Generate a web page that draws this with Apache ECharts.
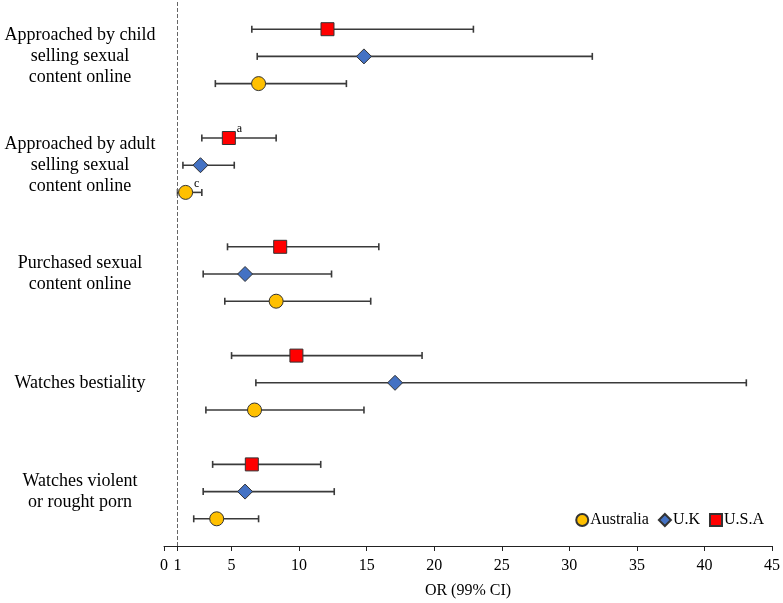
<!DOCTYPE html>
<html>
<head>
<meta charset="utf-8">
<script src="https://cdn.jsdelivr.net/npm/echarts@6/dist/echarts.min.js"></script>
<style>
html,body{margin:0;padding:0;background:#fff}
#main{width:783px;height:603px}
</style>
</head>
<body>
<div id="main"></div>
<script>
// outcome groups, top to bottom
var categories = [
    'Approached by child\nselling sexual\ncontent online',
    'Approached by adult\nselling sexual\ncontent online',
    'Purchased sexual\ncontent online',
    'Watches bestiality',
    'Watches violent\nor rought porn'
];
var xTicks = [0, 1, 5, 10, 15, 20, 25, 30, 35, 40, 45];

// odds ratios and 99% CI per country
var usaOR   = [12.1, 4.8, 8.6, 9.8, 6.5];
var usaLow  = [6.5, 2.8, 4.7, 5.0, 3.6];
var usaHigh = [22.9, 8.3, 15.9, 19.1, 11.6];
var usaNote = ['', 'a', '', '', ''];

var ukOR   = [14.8, 2.7, 6.0, 17.1, 6.0];
var ukLow  = [6.9, 1.4, 2.9, 6.8, 2.9];
var ukHigh = [31.7, 5.2, 12.4, 43.1, 12.6];
var ukNote = ['', '', '', '', ''];

var ausOR   = [7.0, 1.6, 8.3, 6.7, 3.9];
var ausLow  = [3.8, 1.0, 4.5, 3.1, 2.2];
var ausHigh = [13.5, 2.8, 15.3, 14.8, 7.0];
var ausNote = ['', 'c', '', '', ''];

var serif = '"Liberation Serif", "Times New Roman", serif';

// row slot inside a group: 0 = U.S.A, 1 = U.K, 2 = Australia
function rowOf(g, slot) { return g * 4 + slot; }

function points(or, note, slot) {
    return or.map(function (v, g) { return [v, rowOf(g, slot), note[g]]; });
}

var bars = [];
[[usaLow, usaHigh], [ukLow, ukHigh], [ausLow, ausHigh]].forEach(function (p, slot) {
    p[0].forEach(function (lo, g) {
        bars.push([lo, p[1][g], rowOf(g, slot)]);
    });
});

function renderBar(params, api) {
    var y = api.value(2);
    var a = api.coord([api.value(0), y]);
    var b = api.coord([api.value(1), y]);
    var h = 3.5;
    var st = { stroke: '#3a3a3a', lineWidth: 1.6 };
    return {
        type: 'group',
        children: [
            { type: 'line', shape: { x1: a[0], y1: a[1], x2: b[0], y2: b[1] }, style: st },
            { type: 'line', shape: { x1: a[0], y1: a[1] - h, x2: a[0], y2: a[1] + h }, style: st },
            { type: 'line', shape: { x1: b[0], y1: b[1] - h, x2: b[0], y2: b[1] + h }, style: st }
        ]
    };
}

var noteLabel = {
    show: true,
    position: 'right',
    distance: 1,
    offset: [0, -9],
    formatter: function (p) { return p.value[2]; },
    fontFamily: serif,
    fontSize: 12,
    color: '#000'
};

function markerSeries(name, data, symbol, size, color) {
    return {
        name: name,
        type: 'scatter',
        data: data,
        symbol: symbol,
        symbolSize: size,
        z: 5,
        itemStyle: { color: color, borderColor: '#333', borderWidth: 1, opacity: 1 },
        label: noteLabel
    };
}

var chart = echarts.init(document.getElementById('main'), null, { renderer: 'canvas' });

var option = {
    animation: false,
    backgroundColor: '#fff',
    grid: { left: 164, right: 11, top: 2, bottom: 57, containLabel: false, outerBoundsMode: 'none' },
    legend: {
        right: 14,
        top: 507,
        itemWidth: 12,
        itemHeight: 12,
        itemGap: 9,
        textStyle: { fontFamily: serif, fontSize: 16, color: '#000', padding: [0, 0, 0, -3] },
        data: [
            { name: 'Australia', icon: 'circle' },
            { name: 'U.K', icon: 'diamond' },
            { name: 'U.S.A', icon: 'rect' }
        ]
    },
    xAxis: {
        type: 'value',
        min: 0,
        max: 45,
        interval: 5,
        name: 'OR (99% CI)',
        nameLocation: 'middle',
        nameGap: 37,
        nameTextStyle: { fontFamily: serif, fontSize: 16, color: '#000' },
        axisLine: { show: true, onZero: false, lineStyle: { color: '#222', width: 1 } },
        axisTick: { show: true, length: 5, customValues: xTicks, lineStyle: { color: '#222' } },
        axisLabel: { customValues: xTicks, fontFamily: serif, fontSize: 16, color: '#000', margin: 12 },
        splitLine: { show: false }
    },
    yAxis: {
        type: 'value',
        inverse: true,
        min: -1,
        max: 19,
        interval: 1,
        axisLine: { show: false },
        axisTick: { show: false },
        splitLine: { show: false },
        axisLabel: {
            align: 'center',
            margin: 84,
            fontFamily: serif,
            fontSize: 18,
            lineHeight: 21,
            color: '#000',
            formatter: function (v) {
                var g = (v - 1) / 4;
                return (g === Math.round(g) && g >= 0 && g < categories.length) ? categories[g] : '';
            }
        }
    },
    series: [
        {
            type: 'custom',
            renderItem: renderBar,
            data: bars,
            encode: { x: [0, 1], y: 2 },
            z: 2,
            silent: true
        },
        markerSeries('U.S.A', points(usaOR, usaNote, 0), 'rect', 13, '#ff0000'),
        markerSeries('U.K', points(ukOR, ukNote, 1), 'diamond', 15, '#4472c4'),
        (function () {
            var s = markerSeries('Australia', points(ausOR, ausNote, 2), 'circle', 14, '#ffc000');
            s.markLine = {
                silent: true,
                symbol: 'none',
                label: { show: false },
                lineStyle: { type: 'dashed', color: '#666', width: 1 },
                data: [{ xAxis: 1 }]
            };
            return s;
        })()
    ]
};

chart.setOption(option);
</script>
</body>
</html>
